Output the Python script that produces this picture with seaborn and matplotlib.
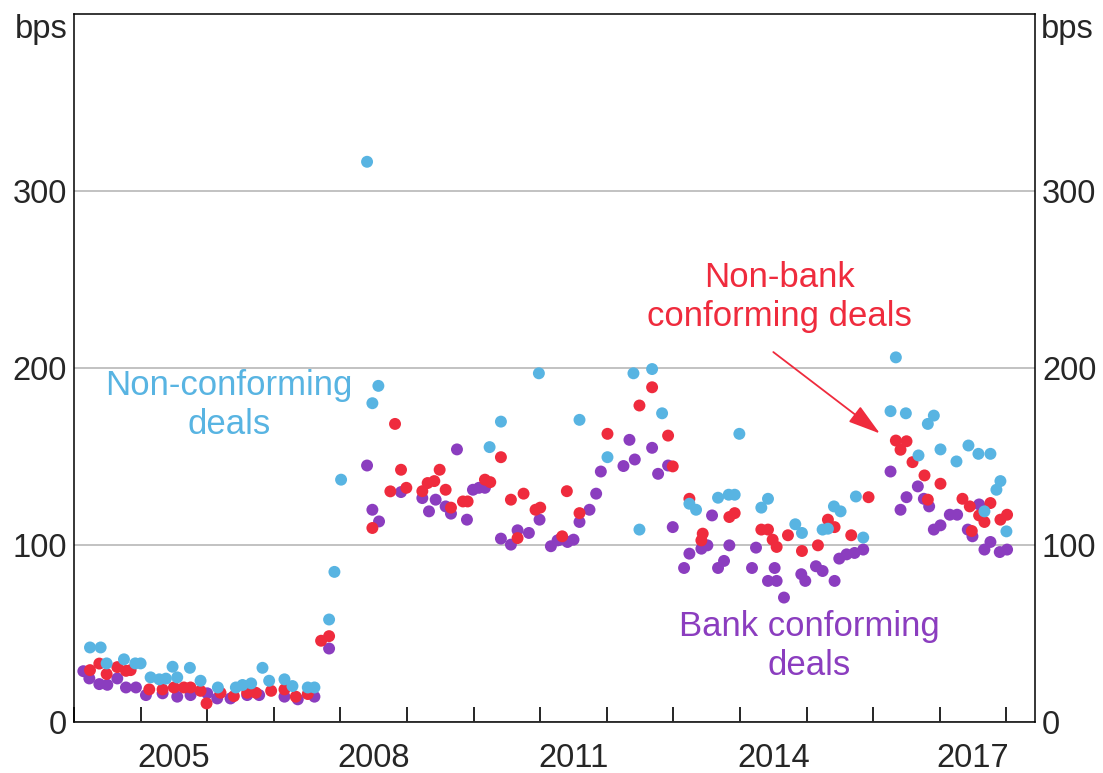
import seaborn as sns
import matplotlib.pyplot as plt
import pandas as pd

# Style first, fonts after (set_style resets font.family)
sns.set_style('white')
plt.rcParams['font.family'] = ['Liberation Sans', 'DejaVu Sans']

# ==========================
# DATA (spreads in bps)
# ==========================
# Non-conforming deals (light blue)
nc_x = [2004.24, 2004.40, 2004.49, 2004.75, 2004.92, 2005.00, 2005.15, 2005.28, 2005.38, 2005.48,
        2005.55, 2005.74, 2005.90, 2006.16, 2006.43, 2006.53, 2006.66, 2006.83, 2006.93, 2007.16,
        2007.28, 2007.51, 2007.61, 2007.83, 2007.91, 2008.01, 2008.40, 2008.48, 2008.57, 2010.24,
        2010.41, 2010.98, 2011.59, 2012.01, 2012.40, 2012.49, 2012.68, 2012.83, 2013.24, 2013.34,
        2013.67, 2013.83, 2013.92, 2013.99, 2014.32, 2014.42, 2014.83, 2014.93, 2015.24, 2015.32,
        2015.41, 2015.51, 2015.74, 2015.85, 2016.26, 2016.34, 2016.49, 2016.68, 2016.82, 2016.91,
        2017.01, 2017.25, 2017.43, 2017.58, 2017.67, 2017.76, 2017.85, 2017.91, 2018.00]
nc_y = [42.1, 42.1, 33.1, 35.4, 33.1, 33.1, 25.2, 24.1, 24.5, 31.2,
        25.2, 30.6, 23.3, 19.5, 19.5, 20.9, 21.8, 30.6, 23.3, 24.1,
        20.3, 19.5, 19.5, 57.9, 84.8, 136.9, 316.5, 180.1, 189.9, 155.3,
        169.7, 197.0, 170.7, 149.6, 197.0, 108.7, 199.4, 174.4, 123.3, 119.9,
        126.7, 128.4, 128.4, 162.8, 121.1, 126.1, 111.7, 106.8, 108.7, 109.2,
        121.8, 119.0, 127.4, 104.2, 175.6, 206.0, 174.4, 150.6, 168.4, 173.1,
        154.0, 147.2, 156.2, 151.5, 119.0, 151.5, 131.2, 136.1, 107.7]

# Non-bank conforming deals (red)
nb_x = [2004.24, 2004.38, 2004.49, 2004.65, 2004.78, 2004.85, 2005.13, 2005.33, 2005.50, 2005.65,
        2005.75, 2005.90, 2005.99, 2006.20, 2006.40, 2006.60, 2006.73, 2006.96, 2007.16, 2007.33,
        2007.51, 2007.71, 2007.83, 2008.48, 2008.75, 2008.82, 2008.91, 2008.99, 2009.23, 2009.31,
        2009.41, 2009.49, 2009.58, 2009.66, 2009.84, 2009.91, 2010.17, 2010.25, 2010.41, 2010.56,
        2010.66, 2010.75, 2010.93, 2011.00, 2011.33, 2011.40, 2011.59, 2012.01, 2012.49, 2012.68,
        2012.92, 2012.99, 2013.24, 2013.42, 2013.44, 2013.84, 2013.92, 2014.32, 2014.42, 2014.49,
        2014.55, 2014.72, 2014.93, 2015.17, 2015.32, 2015.42, 2015.67, 2015.93, 2016.34, 2016.41,
        2016.50, 2016.59, 2016.77, 2016.82, 2017.01, 2017.34, 2017.45, 2017.48, 2017.59, 2017.67,
        2017.76, 2017.91, 2018.01]
nb_y = [29.3, 33.0, 27.1, 31.0, 28.9, 29.3, 18.4, 18.4, 19.5, 19.5,
        19.5, 17.6, 10.5, 16.5, 14.6, 16.5, 16.5, 17.6, 18.4, 14.3,
        15.8, 45.9, 48.5, 109.6, 130.3, 168.4, 142.5, 132.3, 130.4, 135.0,
        136.1, 142.5, 131.2, 121.1, 124.6, 124.6, 136.9, 135.5, 149.6, 125.6,
        103.9, 129.0, 119.9, 121.1, 104.9, 130.4, 118.0, 162.8, 178.8, 189.1,
        161.8, 144.4, 126.1, 102.6, 106.4, 115.8, 118.0, 108.7, 108.7, 103.0,
        98.9, 105.5, 96.6, 99.8, 114.3, 110.1, 105.5, 127.0, 159.0, 153.8,
        158.6, 146.8, 139.3, 125.6, 134.6, 126.1, 121.8, 107.9, 116.7, 113.0,
        123.7, 114.3, 117.1]

# Bank conforming deals (purple)
bc_x = [2004.14, 2004.23, 2004.38, 2004.50, 2004.65, 2004.78, 2004.93, 2005.08, 2005.33, 2005.55,
        2005.75, 2006.00, 2006.15, 2006.35, 2006.60, 2006.78, 2007.16, 2007.36, 2007.61, 2007.83,
        2008.40, 2008.48, 2008.58, 2008.91, 2009.23, 2009.33, 2009.43, 2009.58, 2009.66, 2009.75,
        2009.90, 2009.99, 2010.08, 2010.17, 2010.41, 2010.56, 2010.66, 2010.83, 2010.99, 2011.16,
        2011.26, 2011.29, 2011.41, 2011.50, 2011.59, 2011.74, 2011.84, 2011.91, 2012.25, 2012.34,
        2012.42, 2012.68, 2012.77, 2012.92, 2012.99, 2013.16, 2013.24, 2013.42, 2013.51, 2013.58,
        2013.67, 2013.76, 2013.84, 2014.18, 2014.24, 2014.42, 2014.52, 2014.55, 2014.66, 2014.92,
        2014.98, 2015.14, 2015.24, 2015.42, 2015.49, 2015.60, 2015.72, 2015.85, 2016.26, 2016.41,
        2016.50, 2016.67, 2016.76, 2016.84, 2016.91, 2017.01, 2017.15, 2017.26, 2017.42, 2017.49,
        2017.59, 2017.67, 2017.76, 2017.90, 2018.01]
bc_y = [28.7, 24.6, 21.4, 21.0, 24.6, 19.5, 19.5, 15.2, 16.2, 14.3,
        15.2, 16.2, 13.3, 13.3, 15.2, 15.2, 14.3, 12.8, 14.3, 41.5,
        144.9, 119.9, 113.3, 129.9, 126.5, 119.0, 125.6, 121.8, 117.7, 154.0,
        114.3, 131.2, 132.3, 132.3, 103.6, 100.2, 108.3, 106.8, 114.3, 99.3,
        102.6, 103.0, 101.7, 103.0, 113.0, 119.9, 129.0, 141.5, 144.6, 159.4,
        148.3, 154.9, 140.2, 144.9, 110.1, 87.0, 95.1, 97.9, 99.8, 116.7,
        87.0, 91.0, 99.8, 87.0, 98.5, 79.7, 87.0, 79.7, 70.3, 83.5,
        79.7, 88.0, 85.3, 79.7, 92.3, 94.7, 95.5, 97.4, 141.5, 119.9,
        127.0, 133.1, 126.1, 121.8, 108.7, 111.1, 117.1, 117.1, 108.7, 104.9,
        122.9, 97.4, 101.7, 96.0, 97.4]

blue = '#58B4E2'
red = '#EF2B3D'
purple = '#8B3DBF'
palette = {'Bank conforming': purple, 'Non-bank conforming': red, 'Non-conforming': blue}

# long format table, purple drawn first, blue last
df = pd.concat([
    pd.DataFrame({'year': bc_x, 'bps': bc_y, 'series': 'Bank conforming'}),
    pd.DataFrame({'year': nb_x, 'bps': nb_y, 'series': 'Non-bank conforming'}),
    pd.DataFrame({'year': nc_x, 'bps': nc_y, 'series': 'Non-conforming'}),
], ignore_index=True)

# ==========================
# PLOT
# ==========================
fig = plt.figure(figsize=(11.03, 7.73), dpi=100)
ax = fig.add_axes([0.0671, 0.066, 0.8713, 0.9159])

sns.scatterplot(data=df, x='year', y='bps', hue='series', palette=palette,
                s=74, linewidth=0, legend=False, ax=ax, zorder=3)

# x axis: year ticks inside, labels centred mid-year
ax.set_xlim(2004, 2018.43)
ax.set_xticks(range(2004, 2019))
ax.set_xticklabels([])
ax.set_xticks([2005.5, 2008.5, 2011.5, 2014.5, 2017.5], minor=True)
ax.set_xticklabels(['2005', '2008', '2011', '2014', '2017'], minor=True)
ax.tick_params(axis='x', which='major', direction='in', length=10.8, width=1.2,
               bottom=True, top=False, color='black')
ax.tick_params(axis='x', which='minor', length=0, pad=15, labelsize=23.5)

# y axis: labels both sides, grid only
ax.set_ylim(0, 400)
ax.set_yticks([0, 100, 200, 300])
ax.tick_params(axis='y', length=0, labelsize=23.5, labelleft=True, labelright=True, pad=5)
ax.yaxis.grid(True, color='#BDBDBD', lw=1.3, zorder=0)
ax.xaxis.grid(False)
ax.set_xlabel('')
ax.set_ylabel('')

for s in ax.spines.values():
    s.set_color('black')
    s.set_linewidth(1.1)

ax.text(-0.007, 1.0, 'bps', transform=ax.transAxes, ha='right', va='top', fontsize=23.5)
ax.text(1.006, 1.0, 'bps', transform=ax.transAxes, ha='left', va='top', fontsize=23.5)

# series labels
ax.text(2006.33, 179, 'Non-conforming\ndeals', color=blue, ha='center', va='center',
        fontsize=25, linespacing=1.25)
ax.text(2014.59, 240, 'Non-bank\nconforming deals', color=red, ha='center', va='center',
        fontsize=25, linespacing=1.25)
ax.text(2015.04, 43, 'Bank conforming\ndeals', color=purple, ha='center', va='center',
        fontsize=25, linespacing=1.25)
ax.annotate('', xy=(2016.10, 163), xytext=(2014.50, 209),
            arrowprops=dict(arrowstyle='-|>,head_length=1.0,head_width=0.3', color=red,
                            lw=1.3, mutation_scale=20, shrinkA=0, shrinkB=0))

fig.savefig('out.png', dpi=100)
